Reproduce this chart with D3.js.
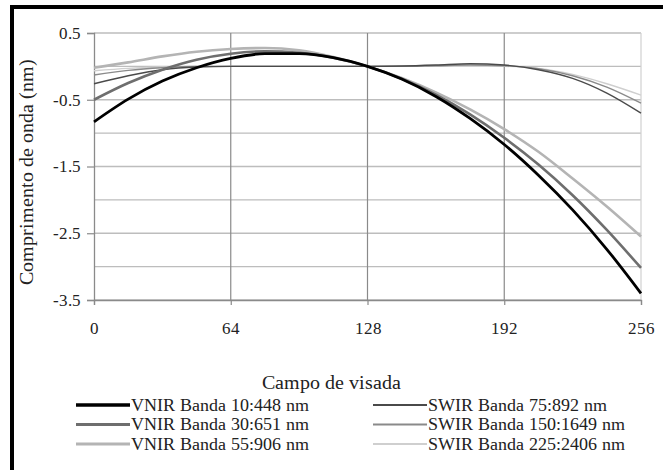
<!DOCTYPE html>
<html><head><meta charset="utf-8">
<script src="https://cdn.jsdelivr.net/npm/d3@7/dist/d3.min.js"></script>
<style>
@font-face{font-family:"ChartSerif";src:local("Liberation Serif"),local("LiberationSerif"),local("LiberationSerif-Regular"),local("Times New Roman"),local("DejaVu Serif"),local("DejaVuSerif");}
body{margin:0;background:#fff}svg{display:block}
svg text{font-family:"ChartSerif","Liberation Serif","DejaVu Serif",serif !important;}
</style>
</head><body>
<svg id="c" width="663" height="470"></svg>
<script>
const xValues = [0,16,32,48,64,80,96,112,128,144,160,176,192,208,224,240,256];
const vnir10  = [-0.83,-0.49,-0.22,-0.02,0.12,0.19,0.19,0.13,0,-0.19,-0.45,-0.78,-1.17,-1.63,-2.15,-2.74,-3.40];
const vnir30  = [-0.50,-0.25,-0.05,0.10,0.19,0.225,0.205,0.13,0,-0.185,-0.425,-0.72,-1.07,-1.47,-1.93,-2.45,-3.02];
const vnir55  = [-0.02,0.06,0.15,0.22,0.26,0.275,0.24,0.14,0,-0.175,-0.39,-0.645,-0.94,-1.28,-1.68,-2.10,-2.55];
const swir75  = [-0.26,-0.14,-0.05,-0.01,0,0,0,0,0,0.005,0.02,0.04,0.02,-0.05,-0.18,-0.40,-0.70];
const swir150 = [-0.13,-0.06,-0.02,0,0,0,0,0,0,0,0.01,0.02,0.01,-0.035,-0.14,-0.31,-0.55];
const swir225 = [-0.065,-0.03,-0.01,0,0,0,0,0,0,0,0,0,0,-0.03,-0.12,-0.26,-0.43];
const seriesNames = ["VNIR Banda 10:448 nm","VNIR Banda 30:651 nm","VNIR Banda 55:906 nm",
                     "SWIR Banda 75:892 nm","SWIR Banda 150:1649 nm","SWIR Banda 225:2406 nm"];
const seriesValues = [vnir10, vnir30, vnir55, swir75, swir150, swir225];
const seriesColors = ["#000000","#6e6e6e","#b4b4b4","#4a4a4a","#8a8a8a","#cfcfcf"];
const seriesWidths = [2.8,2.6,2.6,1.4,1.4,1.4];
const xTicks = [0,64,128,192,256];
const yTicks = [0.5,-0.5,-1.5,-2.5,-3.5];
const yGrid = [0.5,0,-0.5,-1,-1.5,-2,-2.5,-3,-3.5];

const svg = d3.select("#c");
svg.append("rect").attr("width",663).attr("height",470).attr("fill","#fff");
svg.append("path").attr("d","M12,470 V7 H663").attr("fill","none").attr("stroke","#000").attr("stroke-width",4);

const x = d3.scaleLinear().domain([0,256]).range([94,641]);
const y = d3.scaleLinear().domain([-3.5,0.5]).range([300,33]);

svg.append("g").selectAll("line").data(yGrid).join("line")
  .attr("x1",x(0)).attr("x2",x(256)).attr("y1",d=>y(d)).attr("y2",d=>y(d))
  .attr("stroke","#bdbdbd").attr("stroke-width",1.3);
svg.append("g").selectAll("line").data([64,128,192]).join("line")
  .attr("x1",d=>x(d)).attr("x2",d=>x(d)).attr("y1",y(0.5)).attr("y2",y(-3.5))
  .attr("stroke","#8a8a8a").attr("stroke-width",1.2);
svg.append("line").attr("x1",x(256)).attr("x2",x(256)).attr("y1",y(0.5)).attr("y2",y(-3.5))
  .attr("stroke","#d0d0d0").attr("stroke-width",1.2);

const ya = svg.append("g").attr("transform",`translate(${x(0)},0)`)
  .call(d3.axisLeft(y).tickValues(yTicks).tickSize(7).tickPadding(6).tickFormat(d=>d3.format(".1f")(d).replace("−","-")));
const xa = svg.append("g").attr("transform",`translate(0,${y(-3.5)})`)
  .call(d3.axisBottom(x).tickValues(xTicks).tickSize(5).tickPadding(17));
[ya,xa].forEach(a=>{
  a.attr("font-family",null);
  a.select(".domain").attr("stroke","#8a8a8a").attr("stroke-width",1.3);
  a.selectAll(".tick line").attr("stroke","#8a8a8a").attr("stroke-width",1.2);
  a.selectAll("text").attr("font-size",17).attr("fill","#222");
});

const line = d3.line().x((d,i)=>x(xValues[i])).y(d=>y(d)).curve(d3.curveMonotoneX);
const order = [5,4,3,2,1,0];
svg.append("g").selectAll("path").data(order).join("path")
  .attr("d",i=>line(seriesValues[i]))
  .attr("fill","none").attr("stroke",i=>seriesColors[i]).attr("stroke-width",i=>seriesWidths[i])
  .attr("stroke-linejoin","round");

svg.append("text").attr("x",331).attr("y",389).attr("text-anchor","middle")
  .attr("font-size",20).attr("fill","#222").text("Campo de visada");
svg.append("text").attr("transform","translate(33,172) rotate(-90)").attr("text-anchor","middle")
  .attr("font-size",20).attr("fill","#222").text("Comprimento de onda (nm)");

const leg = svg.append("g");
seriesNames.forEach((n,i)=>{
  const col = Math.floor(i/3), row = i%3;
  const lx = col===0 ? 76 : 373, ly = 405 + row*19.5;
  leg.append("line").attr("x1",lx).attr("x2",lx+54).attr("y1",ly).attr("y2",ly)
    .attr("stroke",seriesColors[i]).attr("stroke-width",seriesWidths[i]+0.6);
  leg.append("text").attr("x",lx+55).attr("y",ly+5.5).attr("font-size",18)
    .attr("fill","#222").text(n);
});
</script>
</body></html>
